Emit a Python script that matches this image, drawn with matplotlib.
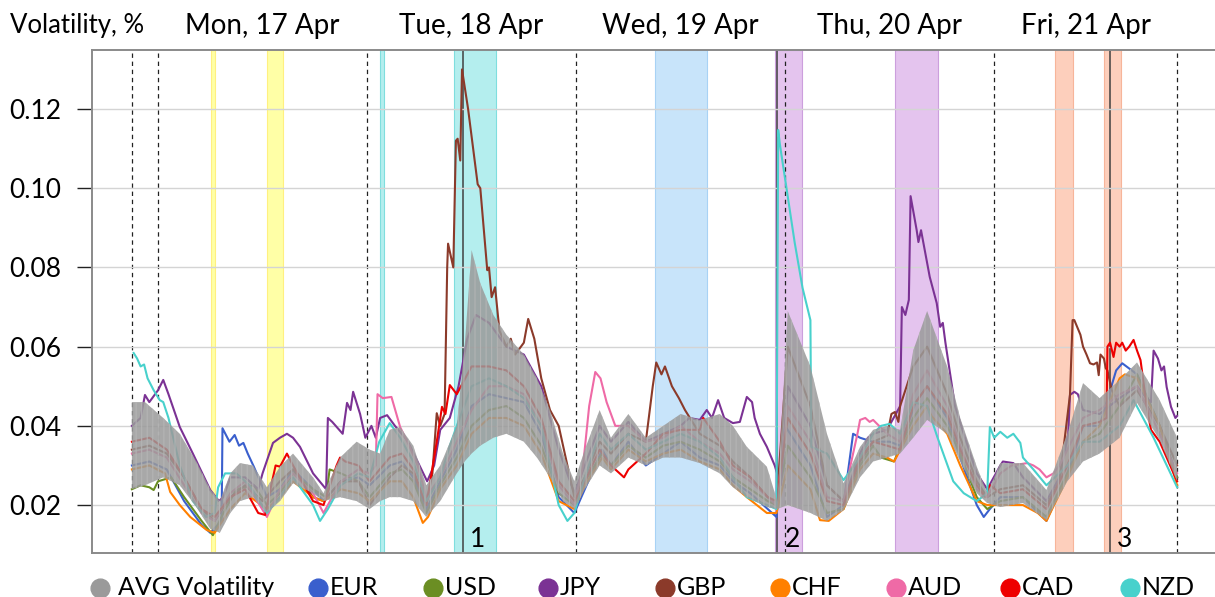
import matplotlib.pyplot as plt
from matplotlib.lines import Line2D
from matplotlib.ticker import FormatStrFormatter
from matplotlib.transforms import blended_transform_factory

plt.rcParams["font.family"] = ["Lato", "DejaVu Sans"]
plt.rcParams["hatch.linewidth"] = 0.8

# time axis: hours from Mon 17 Apr 00:00
days = ["Mon, 17 Apr", "Tue, 18 Apr", "Wed, 19 Apr", "Thu, 20 Apr", "Fri, 21 Apr"]
day_mid = [12, 36, 60, 84, 106.5]
session_marks = [-3, 0, 24, 48, 72, 96, 117]
events = [35.0, 71.1, 109.3]
event_labels = ["1", "2", "3"]

span_start = [6.1, 12.5, 25.5, 34.0, 57.0, 70.85, 84.6, 103.0, 108.6]
span_end = [6.5, 14.35, 25.95, 38.8, 63.0, 73.95, 89.6, 105.0, 110.6]
span_face = ["#ffffa6", "#ffffa6", "#b4eeee", "#b4eeee", "#c8e4fa",
             "#e4c4ee", "#e4c4ee", "#fdcfbc", "#fdcfbc"]
span_edge = ["#fff080", "#fff080", "#7fdede", "#7fdede", "#a8d2f5",
             "#cc9fdd", "#cc9fdd", "#f7b59a", "#f7b59a"]

# average volatility band
band_t = [-3, -1.5, 0.6, 2.5, 4.4, 6, 7.1, 8.3, 9.4, 10.9, 12.5, 14, 15.5, 17.8, 19,
          20.9, 22.8, 24.3, 25.5, 26.6, 27.8, 29.3, 30.8, 32.4, 34.3, 35.2, 36, 37,
          38.5, 40, 42, 43.5, 45, 46.5, 47.8, 49, 50.7, 52, 54, 56, 58, 60, 62.2,
          64.5, 66, 67.6, 69.9, 71.1, 72.3, 74.9, 76.8, 78.7, 80.6, 82.1, 83.7, 85.2,
          86.7, 88.3, 90.6, 92.1, 94, 95.2, 96.7, 99.3, 102, 104.4, 106.2, 108.1,
          110.4, 112.4, 115, 117]
band_hi = [0.046, 0.046, 0.042, 0.038, 0.031, 0.024, 0.021, 0.028, 0.0306, 0.030,
           0.0245, 0.0297, 0.033, 0.027, 0.023, 0.032, 0.036, 0.034, 0.033, 0.039,
           0.0397, 0.035, 0.025, 0.030, 0.040, 0.060, 0.0844, 0.076, 0.068, 0.063,
           0.058, 0.052, 0.044, 0.033, 0.026, 0.034, 0.044, 0.037, 0.043, 0.037,
           0.040, 0.043, 0.0415, 0.043, 0.040, 0.0347, 0.0297, 0.021, 0.069, 0.055,
           0.038, 0.0255, 0.0347, 0.039, 0.040, 0.039, 0.059, 0.069, 0.055, 0.042,
           0.0297, 0.023, 0.0306, 0.0306, 0.0238, 0.038, 0.0508, 0.047, 0.0516, 0.056,
           0.0465, 0.037]
band_lo = [0.024, 0.025, 0.027, 0.025, 0.0195, 0.014, 0.013, 0.018, 0.021, 0.022,
           0.018, 0.021, 0.0255, 0.023, 0.021, 0.022, 0.021, 0.019, 0.021, 0.022,
           0.022, 0.021, 0.017, 0.021, 0.028, 0.031, 0.033, 0.035, 0.037, 0.038,
           0.036, 0.032, 0.027, 0.021, 0.019, 0.024, 0.030, 0.028, 0.032, 0.030,
           0.032, 0.032, 0.0306, 0.028, 0.0245, 0.022, 0.0195, 0.019, 0.020, 0.018,
           0.016, 0.0187, 0.027, 0.031, 0.032, 0.033, 0.037, 0.0415, 0.038, 0.031,
           0.023, 0.0205, 0.0195, 0.0205, 0.0162, 0.026, 0.031, 0.033, 0.037, 0.0458,
           0.0364, 0.026]

eur_t = [-3, -1, 1, 3, 5, 6, 7.3, 7.4, 8.2, 8.8, 9.3, 9.8, 10.3, 11, 12.5, 14, 15.5,
         17.8, 19, 21, 23, 24.3, 26.6, 28, 29.3, 30.8, 32.4, 34.3, 36, 38, 40, 42, 44,
         46, 47.8, 49, 51, 52, 54, 56, 58, 60, 62.2, 64.5, 66, 68, 70, 71, 72, 74.9,
         76.8, 78.7, 79.8, 80.6, 82, 84, 85.2, 87, 88.3, 90.6, 92.1, 94, 94.8, 95.5,
         96.7, 99.3, 102, 104.4, 106.2, 108.1, 110, 110.7, 112.4, 115, 117]
eur_v = [0.030, 0.031, 0.029, 0.021, 0.015, 0.013, 0.016, 0.0394, 0.036, 0.0377, 0.035,
         0.0357, 0.033, 0.0297, 0.022, 0.024, 0.029, 0.024, 0.021, 0.026, 0.027, 0.025,
         0.030, 0.031, 0.027, 0.019, 0.026, 0.034, 0.045, 0.048, 0.047, 0.046, 0.038,
         0.022, 0.018, 0.024, 0.034, 0.030, 0.036, 0.030, 0.033, 0.036, 0.032, 0.030,
         0.026, 0.023, 0.019, 0.017, 0.040, 0.030, 0.017, 0.020, 0.038, 0.037, 0.036,
         0.036, 0.035, 0.046, 0.050, 0.042, 0.032, 0.020, 0.017, 0.019, 0.022, 0.022,
         0.016, 0.028, 0.040, 0.040, 0.054, 0.0558, 0.053, 0.040, 0.027]

usd_t = [-3, -2, -1, -0.5, 0, 1.5, 3, 5, 6.3, 7.5, 9, 11, 12.5, 14, 15.5, 17.8, 19.3,
         19.7, 21, 23, 24.3, 26.6, 28, 29.3, 30.8, 32.4, 34.3, 36, 38, 40, 42, 44, 46,
         47.8, 49, 51, 52, 54, 56, 58, 60, 62.2, 64.5, 66, 68, 70, 71, 72.3, 74.9, 76.8,
         78.7, 80.6, 82.1, 83, 84.5, 86.7, 88.3, 90.6, 92.1, 94, 95.2, 96.7, 99.3, 102,
         104.4, 106.2, 108.1, 110.4, 112.4, 115, 117]
usd_v = [0.024, 0.025, 0.0245, 0.0238, 0.026, 0.027, 0.022, 0.016, 0.0124, 0.018, 0.024,
         0.025, 0.020, 0.023, 0.028, 0.024, 0.022, 0.029, 0.028, 0.026, 0.022, 0.028,
         0.029, 0.026, 0.018, 0.025, 0.032, 0.040, 0.044, 0.045, 0.042, 0.035, 0.023,
         0.020, 0.026, 0.033, 0.030, 0.035, 0.032, 0.035, 0.036, 0.034, 0.031, 0.027,
         0.024, 0.021, 0.020, 0.035, 0.027, 0.018, 0.019, 0.030, 0.035, 0.032, 0.031,
         0.042, 0.047, 0.040, 0.033, 0.022, 0.019, 0.021, 0.022, 0.017, 0.028, 0.036,
         0.038, 0.045, 0.053, 0.040, 0.027]

jpy_t = [-3, -2, -1.5, -1, 0, 0.6, 1.2, 2.5, 4, 6, 7, 7.5, 8.3, 10, 11.5, 12, 13.2, 14,
         14.8, 15.5, 16.3, 17.8, 19.3, 19.5, 20, 21.2, 21.7, 22.1, 22.4, 23.2, 23.8,
         24.5, 25, 25.5, 26.3, 27.2, 28.6, 30.9, 31.7, 32.4, 33.5, 34.5, 35.5, 36.5, 38,
         40, 42, 44, 46, 47.8, 49, 50.7, 52, 54, 56, 58, 60, 61, 62.2, 63, 63.6, 64.3,
         65, 66, 66.8, 67.6, 68.2, 68.5, 69.1, 69.9, 70.8, 71.5, 72.3, 74.9, 76.8, 78.7,
         80.6, 81.5, 82.1, 83.7, 85.2, 85.4, 85.8, 86.2, 86.4, 87.1, 87.3, 87.6, 88.6,
         89.4, 89.8, 90.1, 90.4, 91.5, 92.5, 94, 95.2, 96.7, 97, 98.2, 99.3, 102, 103.5,
         104.5, 104.7, 105.2, 105.6, 106.2, 108.1, 110.4, 112.4, 113.5, 114, 114.3,
         114.8, 115.2, 115.5, 115.8, 116.3, 116.8, 117]
jpy_v = [0.040, 0.042, 0.0478, 0.046, 0.049, 0.0516, 0.048, 0.0397, 0.033, 0.0238,
         0.021, 0.022, 0.027, 0.027, 0.024, 0.028, 0.0357, 0.037, 0.038, 0.037, 0.0347,
         0.028, 0.024, 0.042, 0.041, 0.038, 0.0458, 0.044, 0.0486, 0.043, 0.037, 0.040,
         0.037, 0.042, 0.0427, 0.040, 0.0364, 0.026, 0.030, 0.039, 0.042, 0.050, 0.062,
         0.068, 0.066, 0.060, 0.058, 0.050, 0.034, 0.023, 0.030, 0.040, 0.036, 0.041,
         0.036, 0.038, 0.040, 0.042, 0.0415, 0.044, 0.042, 0.0465, 0.042, 0.0407, 0.041,
         0.0473, 0.046, 0.042, 0.038, 0.0347, 0.030, 0.025, 0.050, 0.040, 0.025, 0.021,
         0.033, 0.037, 0.038, 0.039, 0.045, 0.070, 0.068, 0.0718, 0.098, 0.0894, 0.0864,
         0.0894, 0.0776, 0.071, 0.065, 0.066, 0.061, 0.045, 0.038, 0.028, 0.024, 0.030,
         0.031, 0.0306, 0.027, 0.021, 0.027, 0.038, 0.0478, 0.0486, 0.048, 0.044, 0.043,
         0.047, 0.050, 0.047, 0.046, 0.059, 0.057, 0.054, 0.055, 0.0498, 0.0448, 0.042,
         0.0425]

gbp_t = [-3, -1, 1, 3, 5, 6.5, 8.3, 10, 12, 14, 15.5, 17.8, 19, 21, 23, 24.3, 26.6, 28,
         29.3, 30.8, 31.5, 32, 32.4, 32.9, 33.2, 33.3, 33.9, 34.2, 34.4, 34.7, 34.9,
         35.6, 36.7, 37.0, 37.8, 38.0, 38.3, 38.7, 39.2, 40, 40.5, 41, 42, 42.5, 43.2,
         44, 45, 46, 47, 47.8, 49, 50.7, 52, 54, 56, 56.8, 57.2, 57.8, 58.2, 59, 59.8,
         60.5, 62.2, 64.5, 66, 68, 70, 71, 72.3, 74.9, 76.8, 78.7, 80.6, 82.1, 83.7,
         84.2, 84.6, 85, 85.2, 86.7, 88.3, 90.6, 92.1, 94, 95.2, 96.7, 99.3, 102, 103.5,
         104.7, 105, 105.2, 105.9, 106.2, 106.6, 107, 107.4, 107.8, 108, 108.2, 108.6,
         108.8, 109, 109.5, 110.4, 112.4, 115, 117]
gbp_v = [0.034, 0.035, 0.033, 0.027, 0.019, 0.016, 0.022, 0.025, 0.021, 0.026, 0.029,
         0.022, 0.021, 0.026, 0.026, 0.020, 0.027, 0.030, 0.028, 0.020, 0.028, 0.0432,
         0.040, 0.043, 0.080, 0.086, 0.080, 0.112, 0.1125, 0.107, 0.130, 0.120, 0.101,
         0.100, 0.0793, 0.080, 0.0725, 0.075, 0.064, 0.060, 0.062, 0.058, 0.061, 0.067,
         0.062, 0.052, 0.044, 0.040, 0.030, 0.022, 0.027, 0.036, 0.033, 0.038, 0.036,
         0.050, 0.056, 0.053, 0.055, 0.050, 0.047, 0.044, 0.038, 0.035, 0.031, 0.027,
         0.022, 0.020, 0.060, 0.045, 0.025, 0.021, 0.031, 0.036, 0.0375, 0.043, 0.0435,
         0.041, 0.045, 0.055, 0.060, 0.048, 0.037, 0.026, 0.022, 0.024, 0.025, 0.020,
         0.026, 0.0478, 0.0667, 0.0667, 0.063, 0.060, 0.058, 0.0558, 0.0555, 0.056,
         0.0528, 0.058, 0.057, 0.0546, 0.054, 0.049, 0.045, 0.049, 0.040, 0.030]

chf_t = [-3, -1, 0.8, 1.4, 2.5, 3.7, 5.6, 6.5, 8.3, 10, 12.5, 14, 15.5, 17.8, 19, 21,
         23, 24.3, 26.6, 28, 29.3, 30.4, 31, 32.4, 34.3, 36, 38, 40, 42, 44, 46, 47.8,
         49, 51, 52, 54, 56, 58, 60, 62.2, 64.5, 66, 67.6, 69.9, 71, 72.3, 74.9, 76, 77,
         78.7, 80.6, 82.1, 83.7, 84.5, 86.7, 88.3, 88.8, 90.6, 92.1, 94, 95.2, 96.7,
         99.3, 101, 102, 104.4, 106.2, 108.1, 110.4, 111, 112.4, 115, 117]
chf_v = [0.029, 0.030, 0.028, 0.0233, 0.020, 0.017, 0.0137, 0.013, 0.019, 0.023, 0.019,
         0.022, 0.026, 0.022, 0.021, 0.024, 0.023, 0.021, 0.026, 0.026, 0.022, 0.0155,
         0.017, 0.024, 0.030, 0.038, 0.042, 0.042, 0.040, 0.033, 0.021, 0.019, 0.025,
         0.032, 0.029, 0.034, 0.031, 0.033, 0.034, 0.031, 0.029, 0.025, 0.022, 0.018,
         0.018, 0.030, 0.024, 0.0162, 0.016, 0.019, 0.029, 0.033, 0.032, 0.031, 0.040,
         0.045, 0.0425, 0.038, 0.030, 0.021, 0.020, 0.020, 0.020, 0.018, 0.016, 0.027,
         0.036, 0.040, 0.052, 0.053, 0.052, 0.040, 0.025]

aud_t = [-3, -1, 1, 3, 5, 6.5, 8.3, 10, 12.5, 14, 15.5, 17.8, 19, 21, 23, 24.3, 25,
         25.2, 25.8, 26.8, 27.8, 28.9, 29.8, 30.8, 32.4, 34.3, 36, 38, 40, 42, 44, 46,
         47.8, 48.8, 49.5, 50.2, 50.8, 51.5, 52.5, 54, 56, 58, 60, 62.2, 64.5, 66, 68,
         70, 71, 72.3, 74.9, 76.8, 78.7, 79.5, 80.3, 80.6, 81.2, 81.7, 82.1, 83.7, 85.2,
         86.7, 88.3, 90.6, 92.1, 94, 95.2, 96.7, 98, 99.8, 100.5, 101.2, 102, 102.8,
         103.5, 104.4, 106.2, 108.1, 110.4, 112.4, 115, 117]
aud_v = [0.033, 0.034, 0.032, 0.025, 0.018, 0.016, 0.023, 0.026, 0.017, 0.024, 0.028,
         0.023, 0.018, 0.026, 0.029, 0.028, 0.030, 0.048, 0.047, 0.0473, 0.0397, 0.0347,
         0.030, 0.022, 0.027, 0.036, 0.044, 0.050, 0.050, 0.048, 0.040, 0.025, 0.020,
         0.030, 0.045, 0.0536, 0.052, 0.046, 0.040, 0.040, 0.036, 0.037, 0.040, 0.036,
         0.033, 0.029, 0.026, 0.022, 0.020, 0.045, 0.036, 0.022, 0.021, 0.030, 0.038,
         0.0415, 0.042, 0.041, 0.0415, 0.038, 0.036, 0.048, 0.054, 0.045, 0.035, 0.024,
         0.022, 0.028, 0.030, 0.0306, 0.030, 0.029, 0.027, 0.028, 0.030, 0.034, 0.042,
         0.044, 0.048, 0.050, 0.038, 0.028]

cad_t = [-3, -1, 1, 3, 5, 6.5, 8.3, 10, 11.5, 12.3, 13, 13.5, 14, 14.8, 15.5, 17.8, 19,
         20.5, 20.9, 21.5, 23, 24.3, 26.6, 28, 29.3, 30.8, 32, 32.6, 33, 33.5, 34.3, 36,
         38, 40, 42, 44, 46, 47.8, 49, 50.7, 52, 53.5, 54, 56, 58, 60, 62.2, 62.6, 64.5,
         66, 68, 70, 71, 72.3, 74.9, 76.8, 78.7, 80.6, 82.1, 83.7, 85.2, 86.7, 88.3,
         90.6, 92.1, 94, 95, 95.5, 96.7, 99.3, 102, 104.4, 106.2, 108.1, 108.9, 109,
         109.3, 109.7, 110, 110.4, 110.7, 111.1, 111.5, 112, 112.4, 112.8, 113.5, 114,
         115, 117]
cad_v = [0.036, 0.037, 0.034, 0.027, 0.019, 0.017, 0.022, 0.024, 0.018, 0.0175, 0.025,
         0.030, 0.0297, 0.033, 0.030, 0.021, 0.020, 0.030, 0.032, 0.031, 0.030, 0.026,
         0.032, 0.033, 0.029, 0.020, 0.036, 0.0448, 0.043, 0.0503, 0.048, 0.055, 0.055,
         0.054, 0.050, 0.042, 0.026, 0.021, 0.026, 0.034, 0.030, 0.027, 0.029, 0.033,
         0.038, 0.039, 0.039, 0.042, 0.036, 0.030, 0.027, 0.022, 0.021, 0.042, 0.033,
         0.021, 0.020, 0.032, 0.036, 0.035, 0.034, 0.045, 0.050, 0.043, 0.034, 0.025,
         0.022, 0.025, 0.023, 0.024, 0.019, 0.030, 0.040, 0.041, 0.042, 0.060, 0.061,
         0.0574, 0.061, 0.060, 0.061, 0.059, 0.060, 0.0617, 0.059, 0.0566, 0.045, 0.039,
         0.036, 0.026]

nzd_t = [-2.8, -2.4, -2, -1.6, -1.2, -0.5, 0.2, 0.6, 1.2, 2.5, 4, 5.5, 6.5, 6.9, 7.7, 9,
         10.5, 12.5, 14, 15.5, 17.8, 18.6, 19.5, 21, 23, 24.3, 25.4, 26.6, 27.8, 29.3,
         30.8, 32.4, 33.5, 34.3, 36, 38, 40, 42, 44, 46, 47, 47.8, 49, 50.7, 52, 54, 56,
         58, 60, 62.2, 64.5, 66, 67.6, 69.9, 71, 71.2, 71.4, 73.1, 74, 74.9, 75.0, 76.8,
         78.7, 80.6, 82.1, 83, 84, 85.2, 86.7, 88.3, 89.5, 91.3, 92.5, 94, 95.2, 95.5,
         96, 96.7, 97.5, 98.2, 99, 99.3, 100.5, 102, 104.4, 106.2, 108.1, 110.4, 112,
         114.3, 117]
nzd_v = [0.0584, 0.057, 0.055, 0.0555, 0.052, 0.049, 0.0465, 0.046, 0.042, 0.030, 0.021,
         0.017, 0.018, 0.0245, 0.028, 0.028, 0.025, 0.018, 0.022, 0.027, 0.020, 0.016,
         0.019, 0.025, 0.028, 0.027, 0.036, 0.0407, 0.037, 0.031, 0.021, 0.027, 0.035,
         0.040, 0.050, 0.052, 0.050, 0.047, 0.040, 0.020, 0.016, 0.018, 0.027, 0.038,
         0.034, 0.038, 0.034, 0.036, 0.038, 0.036, 0.032, 0.027, 0.022, 0.020, 0.019,
         0.1147, 0.111, 0.0862, 0.0748, 0.0667, 0.0347, 0.033, 0.0263, 0.032, 0.038,
         0.040, 0.0405, 0.038, 0.046, 0.045, 0.037, 0.026, 0.023, 0.021, 0.023, 0.0397,
         0.037, 0.0385, 0.037, 0.038, 0.0357, 0.032, 0.029, 0.025, 0.030, 0.036, 0.036,
         0.040, 0.0465, 0.037, 0.0245]

names = ["EUR", "USD", "JPY", "GBP", "CHF", "AUD", "CAD", "NZD"]
colors = ["#3a5fcd", "#6b8e23", "#7b3294", "#8b3a2a", "#ff8000", "#ef6aa6", "#ee0000", "#48d1cc"]
series_t = [eur_t, usd_t, jpy_t, gbp_t, chf_t, aud_t, cad_t, nzd_t]
series_v = [eur_v, usd_v, jpy_v, gbp_v, chf_v, aud_v, cad_v, nzd_v]

fig = plt.figure(figsize=(12.15, 5.97), dpi=100)
ax = fig.add_axes([92 / 1215, 1 - 553 / 597, 1 - 92 / 1215, (553 - 50) / 597])

for s, e, fc, ec in zip(span_start, span_end, span_face, span_edge):
    ax.axvspan(s, e, facecolor=fc, edgecolor=ec, linewidth=0.8, zorder=0)

ax.grid(axis="y", color="#d4d4d4", linewidth=1.0, zorder=0.5)

for h in session_marks:
    ax.axvline(h, color="#222222", linewidth=0.9, linestyle=(0, (3.5, 3)), zorder=1)
for h in events:
    ax.axvline(h, color="#404040", linewidth=1.1, zorder=1.2)

for t, v, c in zip(series_t, series_v, colors):
    ax.plot(t, v, color=c, linewidth=1.5, zorder=2)

ax.fill_between(band_t, band_lo, band_hi, facecolor="#9a9a9a", edgecolor="#b6b6b6",
                hatch="|||", linewidth=0, alpha=0.86, zorder=3)

ax.set_xlim(-7.58, 121.35)
ax.set_ylim(0.0079, 0.1349)
ax.set_yticks([0.02, 0.04, 0.06, 0.08, 0.10, 0.12])
ax.yaxis.set_major_formatter(FormatStrFormatter("%.2f"))
ax.set_xticks([])
ax.tick_params(axis="y", direction="out", length=11, width=1, color="#222222",
               labelsize=19, pad=11)
for side in ["left", "top", "bottom"]:
    ax.spines[side].set_color("#8a8a8a")
    ax.spines[side].set_linewidth(1.4)
ax.spines["right"].set_visible(False)

top = blended_transform_factory(ax.transData, fig.transFigure)
for d, m in zip(days, day_mid):
    ax.text(m, 1 - 26 / 597, d, transform=top, ha="center", va="center", fontsize=20)
fig.text(10 / 1215, 1 - 26 / 597, "Volatility, %", ha="left", va="center", fontsize=18.5)

for h, lab in zip(events, event_labels):
    ax.text(h + 0.8, 0.0112, lab, ha="left", va="center", fontsize=19, zorder=5)

# legend row along the bottom edge
legend_names = ["AVG Volatility"] + names
legend_colors = ["#9a9a9a"] + colors
legend_x = [100, 318, 433, 548, 665, 780, 896, 1010, 1130]
for i, (n, c, x) in enumerate(zip(legend_names, legend_colors, legend_x)):
    fig.add_artist(Line2D([x / 1215], [1 - 588 / 597], marker="o", markersize=13.5,
                          color=c, linestyle="", transform=fig.transFigure))
    off = 18 if i == 0 else 12
    fig.text((x + off) / 1215, 2 / 597, n, ha="left", va="baseline", fontsize=18)

fig.savefig("out.png", dpi=100)
